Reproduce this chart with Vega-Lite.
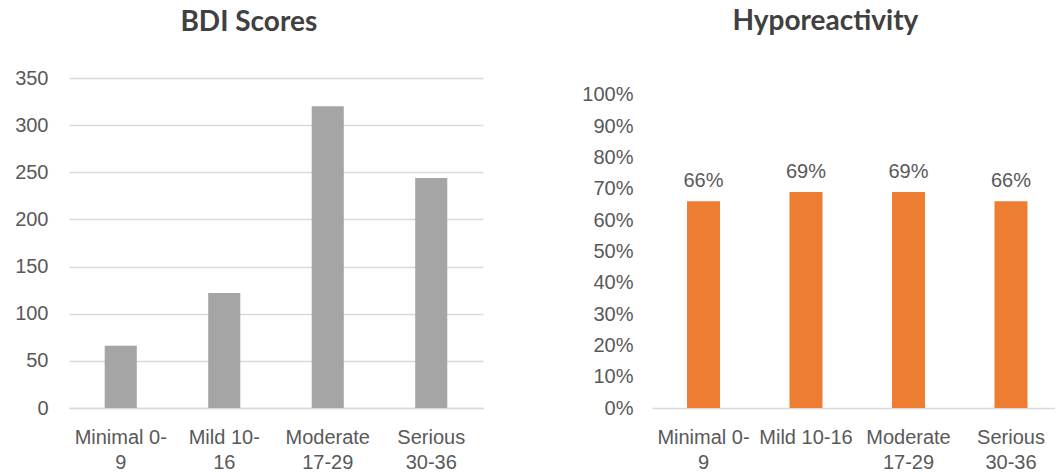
{
  "$schema": "https://vega.github.io/schema/vega-lite/v6.json",
  "background": "white",
  "padding": {"left": 14, "top": 8, "right": 0, "bottom": 0},
  "spacing": 98,
  "config": {
    "view": {"stroke": null},
    "font": "Liberation Sans",
    "title": {"font": "Lato", "fontWeight": "bold", "fontSize": 28, "color": "#404040", "anchor": "middle", "frame": "bounds", "baseline": "alphabetic"},
    "axis": {"labelFont": "Liberation Sans", "labelFontSize": 20, "labelColor": "#595959", "ticks": false, "title": null, "labelOverlap": false, "labelLimit": 300}
  },
  "hconcat": [
    {
      "title": {"text": "BDI Scores", "offset": 31},
      "width": 414,
      "height": 330,
      "data": {"values": [
        {"category": "Minimal 0-9", "score": 66},
        {"category": "Mild 10-16", "score": 122},
        {"category": "Moderate 17-29", "score": 320},
        {"category": "Serious 30-36", "score": 244}
      ]},
      "mark": {"type": "bar", "color": "#a5a5a5"},
      "encoding": {
        "x": {
          "field": "category", "type": "nominal", "sort": null,
          "scale": {"paddingInner": 0.69, "paddingOuter": 0.345},
          "axis": {
            "labelAngle": 0, "labelPadding": 19, "labelLineHeight": 25,
            "domainColor": "#d9d9d9", "domainWidth": 1.5,
            "labelExpr": "datum.value == 'Minimal 0-9' ? ['Minimal 0-', '9'] : datum.value == 'Mild 10-16' ? ['Mild 10-', '16'] : split(datum.value, ' ')"
          }
        },
        "y": {
          "field": "score", "type": "quantitative",
          "scale": {"domain": [0, 350]},
          "axis": {"values": [0, 50, 100, 150, 200, 250, 300, 350], "gridColor": "#d9d9d9", "gridWidth": 1.5, "domain": false, "labelPadding": 21}
        }
      }
    },
    {
      "title": {"text": "Hyporeactivity", "offset": 42, "dx": 7},
      "width": 403,
      "height": 330,
      "data": {"values": [
        {"category": "Minimal 0-9", "rate": 0.66},
        {"category": "Mild 10-16", "rate": 0.69},
        {"category": "Moderate 17-29", "rate": 0.69},
        {"category": "Serious 30-36", "rate": 0.66}
      ]},
      "encoding": {
        "x": {
          "field": "category", "type": "nominal", "sort": null,
          "scale": {"paddingInner": 0.678, "paddingOuter": 0.305, "align": 0.56},
          "axis": {
            "labelAngle": 0, "labelPadding": 19, "labelLineHeight": 25,
            "domainColor": "#d9d9d9", "domainWidth": 1.5,
            "labelExpr": "datum.value == 'Minimal 0-9' ? ['Minimal 0-', '9'] : datum.value == 'Mild 10-16' ? 'Mild 10-16' : split(datum.value, ' ')"
          }
        },
        "y": {
          "field": "rate", "type": "quantitative",
          "scale": {"domain": [0, 1.054]},
          "axis": {"values": [0, 0.1, 0.2, 0.3, 0.4, 0.5, 0.6, 0.7, 0.8, 0.9, 1], "format": ".0%", "grid": false, "domain": false, "labelPadding": 19}
        }
      },
      "layer": [
        {"mark": {"type": "bar", "color": "#ed7d31"}},
        {
          "mark": {"type": "text", "baseline": "alphabetic", "dy": -14, "fontSize": 20, "color": "#595959", "font": "Liberation Sans"},
          "encoding": {"text": {"field": "rate", "type": "quantitative", "format": ".0%"}}
        }
      ]
    }
  ]
}
